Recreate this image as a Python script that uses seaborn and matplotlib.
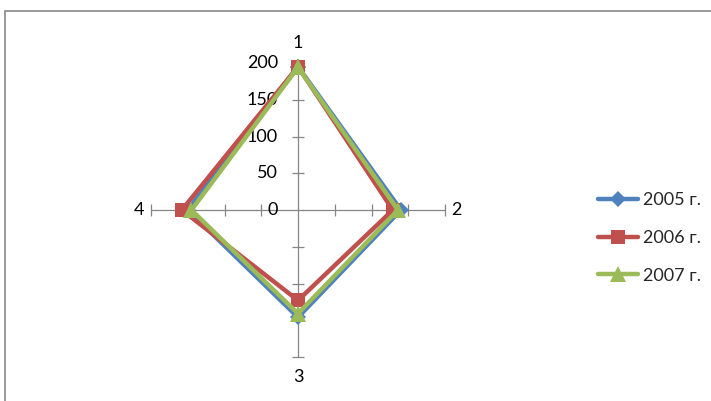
import numpy as np
import pandas as pd
import matplotlib
matplotlib.use("Agg")
import matplotlib.pyplot as plt
from matplotlib.lines import Line2D
from matplotlib.patches import Rectangle
import seaborn as sns

categories = ['1', '2', '3', '4']
years = ['2005 г.', '2006 г.', '2007 г.']
v2005 = [195, 140, 146, 150]
v2006 = [195, 129, 123, 158]
v2007 = [194, 136, 141, 145]
ticks = [0, 50, 100, 150, 200]

colors = ['#4F81BD', '#C0504D', '#9BBB59']
markers = ['D', 's', '^']
msizes = [8.5, 9.5, 11.5]

sns.set_style('white')
plt.rcParams['font.family'] = ['Lato', 'DejaVu Sans']

W, H = 711, 401
fig = plt.figure(figsize=(W / 100, H / 100), dpi=100)
cx, cy = 298, 210
half = 175
scale = 147 / 200.0  # px per unit
lim = half / scale
ax = fig.add_axes([(cx - half) / W, (H - cy - half) / H, 2 * half / W, 2 * half / H])
ax.set_xlim(-lim, lim)
ax.set_ylim(-lim, lim)
ax.axis('off')

n = len(categories)
theta = 2 * np.pi * np.arange(n) / n
rmax = max(ticks)
grey = '#868686'
fs = 13

# spokes and tick crosses
for k, t in enumerate(theta):
    sx, sy = np.sin(t), np.cos(t)
    ax.plot([0, rmax * sx], [0, rmax * sy], color=grey, lw=0.9, zorder=1)
    tm = '_' if abs(sx) < 0.5 else '|'
    tv = [v for v in ticks if v > 0]
    ax.plot([v * sx for v in tv], [v * sy for v in tv], ls='none', marker=tm,
            markersize=9, markeredgewidth=0.9, color=grey, zorder=1)

# radial tick labels along spoke 1
for v in ticks:
    ax.annotate(str(v), (0, v), xytext=(-20, 0), textcoords='offset pixels',
                ha='right', va='center', fontsize=fs, color='#000000')

# category labels
offs = [(0, 20), (11, 0), (0, -20), (-12, 0)]
for k, t in enumerate(theta):
    ax.annotate(categories[k], (rmax * np.sin(t), rmax * np.cos(t)), xytext=offs[k],
                textcoords='offset pixels', ha='center', va='center', fontsize=fs,
                color='#000000')

# series
series = [v2005, v2006, v2007]
handles = []
for i, (name, vals) in enumerate(zip(years, series)):
    vv = list(vals) + [vals[0]]
    tt = list(theta) + [theta[0]]
    df = pd.DataFrame({'x': [v * np.sin(t) for v, t in zip(vv, tt)],
                       'y': [v * np.cos(t) for v, t in zip(vv, tt)]})
    sns.lineplot(data=df, x='x', y='y', sort=False, estimator=None, ax=ax,
                 color=colors[i], lw=3.2, marker=markers[i], markersize=msizes[i],
                 markeredgewidth=0, zorder=3 + i, legend=False)
    handles.append(Line2D([], [], color=colors[i], lw=3.2, marker=markers[i],
                          markersize=msizes[i], markeredgewidth=0))

fig.legend(handles, years, loc='center left', bbox_to_anchor=(598 / W, 1 - 238 / H),
           frameon=False, fontsize=fs, handlelength=2.2, handletextpad=0.3,
           labelspacing=1.2, borderpad=0, borderaxespad=0)

# outer frame
fig.patches.append(Rectangle((5 / W, -0.01), 1.0, (H - 11) / H + 0.01,
                             transform=fig.transFigure, fill=False,
                             edgecolor='#898989', lw=1.2))

fig.savefig('out.png', dpi=100)
